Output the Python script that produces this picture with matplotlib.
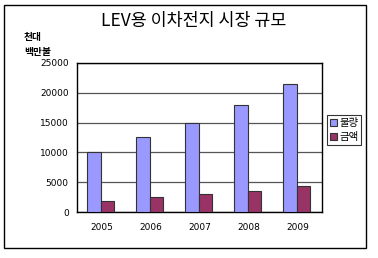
import matplotlib
matplotlib.use("Agg")
import matplotlib.pyplot as plt
from matplotlib.patches import Rectangle
import numpy as np

plt.rcParams['font.family'] = ['Noto Sans CJK KR', 'DejaVu Sans']

years = ["2005", "2006", "2007", "2008", "2009"]
volume = [10000, 12600, 14900, 18000, 21500]   # 물량 (천대)
amount = [1900, 2600, 3050, 3550, 4400]       # 금액 (백만불)
series_names = ["물량", "금액"]
title = "LEV용 이차전지 시장 규모"
unit_labels = ["천대", "백만불"]

W, H = 378, 258
fig = plt.figure(figsize=(W/100, H/100), dpi=100)
fig.patch.set_facecolor("white")

# outer frame
fig.add_artist(Rectangle((4/W, 1 - 248/H), (366-4)/W, (248-5)/H,
                         transform=fig.transFigure, fill=False,
                         edgecolor="black", linewidth=1.0))

ax = fig.add_axes([77/W, 1 - 212/H, (322-77)/W, (212-63)/H])
x = np.arange(len(years))
bw = 0.28
ax.bar(x - bw/2 - 0.02, volume, width=bw, color="#9999FF", edgecolor="#333333", linewidth=0.8,
       label=series_names[0], zorder=3)
ax.bar(x + bw/2 - 0.02, amount, width=bw, color="#993366", edgecolor="#333333", linewidth=0.8,
       label=series_names[1], zorder=3)

ax.set_xlim(-0.5, len(years) - 0.5)
ax.set_ylim(0, 25000)
ax.set_yticks(range(0, 25001, 5000))
ax.set_yticklabels([str(v) for v in range(0, 25001, 5000)], fontsize=6.5, family="DejaVu Sans")
ax.set_xticks(x)
ax.set_xticklabels(years, fontsize=6.5, family="DejaVu Sans")
ax.tick_params(axis="both", length=0, pad=8)
ax.tick_params(axis="y", pad=6)
ax.yaxis.grid(True, color="#555555", linewidth=0.9, zorder=0)
for s in ax.spines.values():
    s.set_color("black")
    s.set_linewidth(1.0)

fig.text(194/W, 1 - 21/H, title, ha="center", va="center", fontsize=12.5)
fig.text(24/W, 1 - 37/H, unit_labels[0], ha="left", va="center", fontsize=7, fontweight="bold")
fig.text(24/W, 1 - 52/H, unit_labels[1], ha="left", va="center", fontsize=7, fontweight="bold")

leg = fig.legend(loc="center", bbox_to_anchor=(344/W, 1 - 130/H), fontsize=7.5,
                 frameon=True, fancybox=False, edgecolor="black", handlelength=0.7,
                 handleheight=0.7, handletextpad=0.2, borderpad=0.3, labelspacing=0.4,
                 borderaxespad=0)
leg.get_frame().set_linewidth(0.8)

fig.savefig("out.png", dpi=100, facecolor="white")
